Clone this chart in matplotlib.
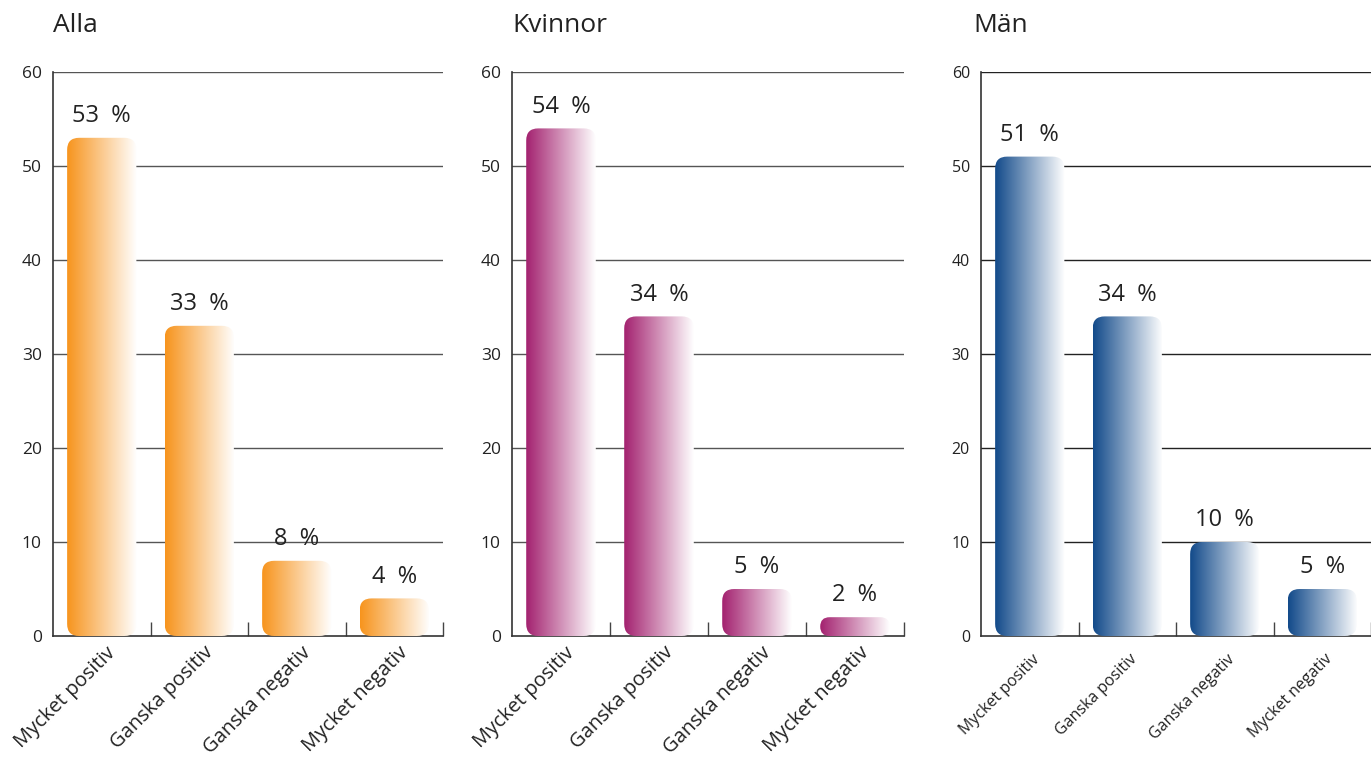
import numpy as np
import matplotlib
matplotlib.use("Agg")
import matplotlib.pyplot as plt
import matplotlib.transforms as mtrans
from matplotlib.patches import FancyBboxPatch
from matplotlib.colors import LinearSegmentedColormap

plt.rcParams['font.family'] = ['Open Sans', 'DejaVu Sans']

categories = ["Mycket positiv", "Ganska positiv", "Ganska negativ", "Mycket negativ"]
titles = ["Alla", "Kvinnor", "Män"]
alla = [53, 33, 8, 4]
kvinnor = [54, 34, 5, 2]
man = [51, 34, 10, 5]
series = [alla, kvinnor, man]
base_colors = ["#F7941D", "#A3216F", "#124A8A"]
yticks = [0, 10, 20, 30, 40, 50, 60]

W, H = 1371, 759
fig = plt.figure(figsize=(W / 100, H / 100), dpi=100)

# axes boxes in pixels: left, right
boxes = [(53, 443), (512, 904), (981, 1371)]
top_px, bot_px = 72, 636

BAR_W = 0.71
RADIUS_PX = 12


def gradient_bar(ax, x, h, color, ppx, ppy):
    """Rounded bar filled with a left-to-right fade to white."""
    x0 = x - BAR_W / 2
    w_px = BAR_W * ppx
    h_px = h * ppy
    r_px = min(RADIUS_PX, h_px / 2, w_px / 2)
    r_x = r_px / ppx
    aspect = ppx / ppy
    patch = FancyBboxPatch((x0, 0), BAR_W, h,
                           boxstyle=f"round,pad=0,rounding_size={r_x}",
                           mutation_aspect=aspect,
                           facecolor="none", edgecolor="none",
                           transform=ax.transData)
    ax.add_patch(patch)
    cmap = LinearSegmentedColormap.from_list("fade", [color, "#FFFFFF"])
    grad = np.linspace(0, 1, 256).reshape(1, -1)
    im = ax.imshow(grad, cmap=cmap, aspect="auto",
                   extent=(x0, x0 + BAR_W, 0, h), zorder=3,
                   interpolation="bicubic")
    im.set_clip_path(patch)


for i, (vals, title, col) in enumerate(zip(series, titles, base_colors)):
    l, r = boxes[i]
    ax = fig.add_axes([l / W, 1 - bot_px / H, (r - l) / W, (bot_px - top_px) / H])
    ax.set_xlim(-0.5, 3.5)
    ax.set_ylim(0, 60)
    ppx = (r - l) / 4.0
    ppy = (bot_px - top_px) / 60.0

    xs = np.arange(len(categories))
    # invisible bars establish the data layout
    ax.bar(xs, vals, width=BAR_W, color="none", edgecolor="none")
    for x, v in zip(xs, vals):
        gradient_bar(ax, x, v, col, ppx, ppy)
        ax.annotate(f"{v}  %", (x, v), xytext=(0, 7), textcoords="offset points",
                    ha="center", va="bottom", fontsize=17, color="#222222",
                    zorder=5)

    is_man = (i == 2)
    grid_col = "#222222" if is_man else "#555555"
    for y in yticks[1:]:
        ax.axhline(y, color=grid_col, lw=1.0, zorder=1)

    for s in ["top", "right"]:
        ax.spines[s].set_visible(False)
    for s in ["left", "bottom"]:
        ax.spines[s].set_color("#333333")
        ax.spines[s].set_linewidth(1.2)

    ax.set_yticks(yticks)
    ax.set_yticklabels([str(t) for t in yticks])
    ax.tick_params(axis="y", length=0, pad=8,
                   labelsize=11.5 if is_man else 12.5, labelcolor="#222222")

    ax.set_xticks(xs)
    ax.set_xticklabels(categories, rotation=45, ha="right", va="center",
                       rotation_mode="anchor",
                       fontsize=11.5 if is_man else 14.5, color="#222222")
    ax.tick_params(axis="x", which="major", length=0, pad=15 if is_man else 10)
    ax.set_xticks(np.arange(0.5, 4.0, 1.0), minor=True)
    ax.tick_params(axis="x", which="minor", direction="in", length=10,
                   width=1.0, color="#444444")
    offs = mtrans.ScaledTranslation((8 if is_man else 11) / 100, 0,
                                    fig.dpi_scale_trans)
    for lab in ax.get_xticklabels():
        lab.set_transform(lab.get_transform() + offs)

    fig.text((l if i < 2 else l - 8) / W, 1 - 26 / H, title, fontsize=19,
             color="#222222", ha="left", va="center")

fig.savefig("out.png", dpi=100)
